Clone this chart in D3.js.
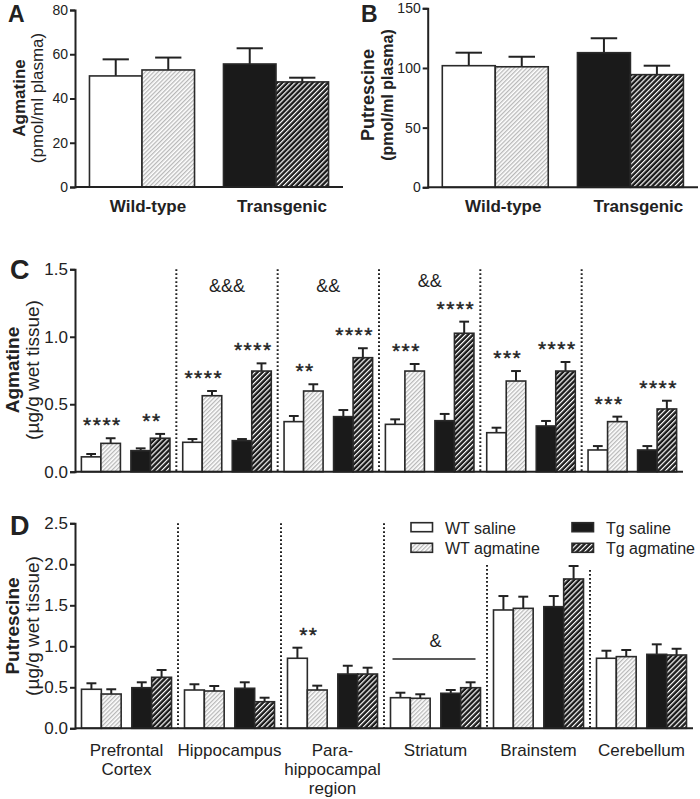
<!DOCTYPE html>
<html>
<head>
<meta charset="utf-8">
<title>Agmatine and putrescine</title>
<script src="https://d3js.org/d3.v7.min.js"></script>
<style>
  body { margin: 0; background: #fff; }
  svg, svg text { font-family: "Liberation Sans", Arial, sans-serif; }
  .axis path, .axis line { stroke: #222; stroke-width: 2; }
  .axis text { fill: #222; }
</style>
</head>
<body>
<div id="chart"></div>
<script>
// ---- data ----
var series = ["WT saline", "WT agmatine", "Tg saline", "Tg agmatine"];
var genotypes = ["Wild-type", "Transgenic"];

// plasma, panel A / B: mean and mean+sem for each series
var plasmaAgm = [50.2, 52.9, 55.6, 47.5];
var plasmaAgmErr = [57.7, 58.5, 62.7, 49.4];
var plasmaPut = [101.9, 101.0, 112.8, 94.4];
var plasmaPutErr = [112.8, 109.4, 124.9, 101.9];

var regions = ["Prefrontal Cortex", "Hippocampus", "Para-hippocampal region", "Striatum", "Brainstem", "Cerebellum"];
var regionLines = [["Prefrontal", "Cortex"], ["Hippocampus"], ["Para-", "hippocampal", "region"], ["Striatum"], ["Brainstem"], ["Cerebellum"]];

// tissue agmatine, panel C (rows = regions, cols = series)
var tissueAgm = [
  [0.11, 0.21, 0.156, 0.248],
  [0.218, 0.563, 0.23, 0.746],
  [0.371, 0.598, 0.408, 0.845],
  [0.351, 0.746, 0.378, 1.026],
  [0.289, 0.672, 0.339, 0.746],
  [0.161, 0.371, 0.161, 0.465]
];
var tissueAgmErr = [
  [0.131, 0.248, 0.173, 0.28],
  [0.242, 0.598, 0.242, 0.803],
  [0.413, 0.648, 0.457, 0.915],
  [0.388, 0.798, 0.428, 1.112],
  [0.326, 0.746, 0.376, 0.813],
  [0.19, 0.408, 0.19, 0.526]
];
// tissue putrescine, panel D
var tissuePut = [
  [0.476, 0.418, 0.495, 0.622],
  [0.467, 0.455, 0.488, 0.324],
  [0.854, 0.467, 0.662, 0.662],
  [0.373, 0.366, 0.427, 0.495],
  [1.443, 1.463, 1.483, 1.821],
  [0.854, 0.874, 0.902, 0.894]
];
var tissuePutErr = [
  [0.549, 0.476, 0.561, 0.711],
  [0.537, 0.516, 0.561, 0.373],
  [0.983, 0.52, 0.763, 0.739],
  [0.434, 0.415, 0.467, 0.561],
  [1.613, 1.605, 1.613, 1.979],
  [0.946, 0.955, 1.024, 0.97]
];

// significance marks: [region index, genotype index, label]
var starsC = [
  [0, 0, "****"], [0, 1, "**"],
  [1, 0, "****"], [1, 1, "****"],
  [2, 0, "**"], [2, 1, "****"],
  [3, 0, "***"], [3, 1, "****"],
  [4, 0, "***"], [4, 1, "****"],
  [5, 0, "***"], [5, 1, "****"]
];
var starsD = [[2, 0, "**"]];
// genotype effect marks: [region index, label, level, bar level]
var ampC = [[1, "&&&", 1.38], [2, "&&", 1.38], [3, "&&", 1.42]];
var ampD = [[3, "&", 1.07, 0.845]];
// top of the dotted separators in D (data units)
var sepTopD = [2.5, 2.5, 2.5, 1.99, 1.93];

var fills = ["#fff", "url(#hatchLight)", "#1a1a1a", "url(#hatchDark)"];

// ---- drawing ----
var svg = d3.select("#chart").append("svg")
  .attr("width", 700).attr("height", 799);

var defs = svg.append("defs");
var pl = defs.append("pattern").attr("id", "hatchLight")
  .attr("patternUnits", "userSpaceOnUse").attr("width", 3).attr("height", 3)
  .attr("patternTransform", "rotate(45)");
pl.append("rect").attr("width", 3).attr("height", 3).attr("fill", "#fff");
pl.append("rect").attr("width", 1.3).attr("height", 3).attr("fill", "#b8b8b8");

var pd = defs.append("pattern").attr("id", "hatchDark")
  .attr("patternUnits", "userSpaceOnUse").attr("width", 3.6).attr("height", 3.6)
  .attr("patternTransform", "rotate(45)");
pd.append("rect").attr("width", 3.6).attr("height", 3.6).attr("fill", "#1a1a1a");
pd.append("rect").attr("width", 1.2).attr("height", 3.6).attr("fill", "#fff");

var FONT = "'Liberation Sans', Arial, sans-serif";

function yAxis(g, y, x0, ticks, fmt, size) {
  var a = g.append("g").attr("class", "axis")
    .attr("transform", "translate(" + x0 + ",0)")
    .call(d3.axisLeft(y).tickValues(ticks).tickFormat(fmt).tickSize(5).tickPadding(2));
  a.attr("font-family", FONT).attr("font-size", size);
  a.selectAll("text").style("font-size", size + "px").style("font-family", FONT);
  return a;
}

function bar(g, x, w, y, v, e, fill) {
  var y0 = y(0);
  g.append("line")
    .attr("x1", x + w / 2).attr("x2", x + w / 2)
    .attr("y1", y(v)).attr("y2", y(e))
    .attr("stroke", "#222").attr("stroke-width", 2);
  g.append("line")
    .attr("x1", x + w / 4).attr("x2", x + w * 3 / 4)
    .attr("y1", y(e)).attr("y2", y(e))
    .attr("stroke", "#222").attr("stroke-width", 2);
  g.append("rect")
    .attr("x", x).attr("y", y(v))
    .attr("width", w).attr("height", y0 - y(v))
    .attr("fill", fill).attr("stroke", "#2a2a2a").attr("stroke-width", 1.6);
}

function ylabel(g, cy, lines) {
  lines.forEach(function(l) {
    g.append("text")
      .attr("transform", "translate(" + l.x + "," + cy + ") rotate(-90)")
      .attr("text-anchor", "middle")
      .style("font-size", l.size + "px")
      .style("font-weight", l.bold ? "bold" : "normal")
      .attr("fill", "#222")
      .text(l.text);
  });
}

function panelLetter(x, y, t, size) {
  svg.append("text").attr("x", x).attr("y", y)
    .style("font-size", size + "px").style("font-weight", "bold")
    .attr("fill", "#222").text(t);
}

// plasma panels A and B
function plasmaPanel(opt) {
  var g = svg.append("g");
  var y = d3.scaleLinear().domain([0, opt.max]).range([opt.y0, opt.y1]);
  var x0 = d3.scaleBand().domain(genotypes).range([opt.xl, opt.xr])
    .paddingInner(0.216).paddingOuter(0.108);
  var x1 = d3.scaleBand().domain([0, 1]).range([0, x0.bandwidth()]);

  genotypes.forEach(function(gt, gi) {
    [0, 1].forEach(function(k) {
      var s = gi * 2 + k;
      bar(g, x0(gt) + x1(k), x1.bandwidth(), y, opt.vals[s], opt.errs[s], fills[s]);
    });
    g.append("text")
      .attr("x", x0(gt) + x0.bandwidth() / 2 + opt.labelDx)
      .attr("y", 212)
      .attr("text-anchor", "middle")
      .style("font-size", "17px").style("font-weight", "bold")
      .attr("fill", "#222").text(gt);
  });

  g.append("line").attr("x1", opt.xl).attr("x2", opt.xr)
    .attr("y1", y(0)).attr("y2", y(0))
    .attr("stroke", "#222").attr("stroke-width", 2);
  yAxis(g, y, opt.xl, opt.ticks, d3.format("d"), 14);
  ylabel(g, opt.labelY, opt.labels);
}

plasmaPanel({
  max: 80, y0: 187, y1: 10, xl: 75, xr: 343,
  vals: plasmaAgm, errs: plasmaAgmErr, ticks: [0, 20, 40, 60, 80],
  labelDx: 6, labelY: 98,
  labels: [{ x: 25, text: "Agmatine", size: 17, bold: true },
           { x: 43, text: "(pmol/ml plasma)", size: 17, bold: false }]
});
plasmaPanel({
  max: 150, y0: 187.3, y1: 8.3, xl: 427.7, xr: 698,
  vals: plasmaPut, errs: plasmaPutErr, ticks: [0, 50, 100, 150],
  labelDx: 8, labelY: 95,
  labels: [{ x: 374, text: "Putrescine", size: 18, bold: true },
           { x: 393, text: "(pmol/ml plasma)", size: 16, bold: true }]
});
panelLetter(8, 22, "A", 23);
panelLetter(361, 22, "B", 23);

// tissue panels C and D
function tissuePanel(opt) {
  var g = svg.append("g");
  var y = d3.scaleLinear().domain([0, opt.max]).range([opt.y0, opt.y1]);
  var xr = d3.scaleBand().domain(regions).range([opt.xl, opt.xr]);
  var xg = d3.scaleBand().domain([0, 1]).range([0, xr.bandwidth()])
    .paddingInner(0.212).paddingOuter(0.129);
  var xs = d3.scaleBand().domain([0, 1]).range([0, xg.bandwidth()]);

  // dotted separators
  regions.slice(1).forEach(function(r, i) {
    g.append("line")
      .attr("x1", xr(r)).attr("x2", xr(r))
      .attr("y1", y(opt.sepTop ? opt.sepTop[i] : opt.max)).attr("y2", y(0))
      .attr("stroke", "#222").attr("stroke-width", 2)
      .attr("stroke-dasharray", "1.6,2.4");
  });

  regions.forEach(function(r, ri) {
    [0, 1].forEach(function(gi) {
      [0, 1].forEach(function(k) {
        var s = gi * 2 + k;
        bar(g, xr(r) + xg(gi) + xs(k), xs.bandwidth(), y,
            opt.vals[ri][s], opt.errs[ri][s], fills[s]);
      });
    });
  });

  opt.stars.forEach(function(st) {
    var r = regions[st[0]], gi = st[1];
    var top = Math.max(opt.errs[st[0]][gi * 2], opt.errs[st[0]][gi * 2 + 1]);
    g.append("text")
      .attr("x", xr(r) + xg(gi) + xg.bandwidth() / 2 + 1.5)
      .attr("y", y(top) - 18 + 12)
      .attr("text-anchor", "middle")
      .style("font-size", "21px").style("letter-spacing", "1.5px")
      .attr("fill", "#222").attr("stroke", "#222").attr("stroke-width", 0.4)
      .text(st[2]);
  });

  opt.amps.forEach(function(a) {
    var r = regions[a[0]];
    g.append("text")
      .attr("x", xr(r) + xr.bandwidth() / 2)
      .attr("y", y(a[2]) + 6.5)
      .attr("text-anchor", "middle")
      .style("font-size", "18px")
      .attr("fill", "#222").text(a[1]);
    if (a.length > 3) {
      g.append("line")
        .attr("x1", xr(r) + xg(0) + 2).attr("x2", xr(r) + xg(1) + xg.bandwidth() - 5)
        .attr("y1", y(a[3])).attr("y2", y(a[3]))
        .attr("stroke", "#222").attr("stroke-width", 1.6);
    }
  });

  g.append("line").attr("x1", opt.xl).attr("x2", opt.xr)
    .attr("y1", y(0)).attr("y2", y(0))
    .attr("stroke", "#222").attr("stroke-width", 2);
  yAxis(g, y, opt.xl, opt.ticks, d3.format(".1f"), 17);
  ylabel(g, opt.labelY, opt.labels);

  if (opt.xlabels) {
    regions.forEach(function(r, ri) {
      regionLines[ri].forEach(function(t, li) {
        g.append("text")
          .attr("x", xr(r) + xr.bandwidth() / 2)
          .attr("y", 756 + li * 19)
          .attr("text-anchor", "middle")
          .style("font-size", "17px")
          .attr("fill", "#222").text(t);
      });
    });
  }
}

tissuePanel({
  max: 1.5, y0: 471.7, y1: 269.3, xl: 75, xr: 683,
  vals: tissueAgm, errs: tissueAgmErr, ticks: [0, 0.5, 1.0, 1.5],
  stars: starsC, amps: ampC, labelY: 370,
  labels: [{ x: 18.5, text: "Agmatine", size: 19, bold: true },
           { x: 39, text: "(\u00b5g/g wet tissue)", size: 19, bold: false }]
});
tissuePanel({
  max: 2.5, y0: 728.3, y1: 523.3, xl: 75, xr: 693,
  vals: tissuePut, errs: tissuePutErr, ticks: [0, 0.5, 1.0, 1.5, 2.0, 2.5],
  stars: starsD, amps: ampD, sepTop: sepTopD, labelY: 626, xlabels: true,
  labels: [{ x: 18.5, text: "Putrescine", size: 19, bold: true },
           { x: 39, text: "(\u00b5g/g wet tissue)", size: 19, bold: false }]
});
panelLetter(10, 279, "C", 27);
panelLetter(10, 535, "D", 27);

// legend
var legX = d3.scaleOrdinal().domain([0, 1]).range([411, 572]);
var legY = d3.scaleOrdinal().domain([0, 1]).range([522.7, 543.3]);
var leg = svg.append("g");
series.forEach(function(s, i) {
  var col = i >= 2 ? 1 : 0, row = i % 2;
  leg.append("rect")
    .attr("x", legX(col)).attr("y", legY(row))
    .attr("width", 21.5).attr("height", 9)
    .attr("fill", fills[i]).attr("stroke", "#2a2a2a").attr("stroke-width", 1.6);
  leg.append("text")
    .attr("x", legX(col) + 34).attr("y", legY(row) + 11)
    .style("font-size", "16px").attr("fill", "#222").text(s);
});
</script>
</body>
</html>
